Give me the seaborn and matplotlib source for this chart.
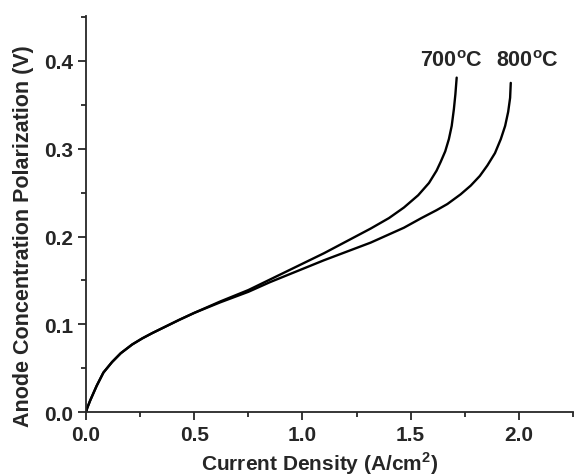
import matplotlib
matplotlib.use("Agg")
import matplotlib.pyplot as plt
import seaborn as sns
import pandas as pd
from matplotlib.ticker import MultipleLocator, FormatStrFormatter

# values
x_700 = [0.0, 0.005, 0.0185, 0.049, 0.08, 0.12, 0.16, 0.213, 0.26, 0.306, 0.43,
         0.5, 0.62, 0.75, 0.85, 1.0, 1.1, 1.315, 1.40, 1.469, 1.535, 1.585, 1.62,
         1.639, 1.66, 1.677, 1.69, 1.700, 1.707, 1.713]
y_700 = [0.0, 0.0045, 0.013, 0.030, 0.045, 0.057, 0.067, 0.077, 0.084, 0.090,
         0.105, 0.113, 0.126, 0.139, 0.151, 0.169, 0.181, 0.209, 0.221, 0.233,
         0.247, 0.261, 0.275, 0.285, 0.297, 0.311, 0.326, 0.345, 0.362, 0.381]

x_800 = [0.0, 0.005, 0.0185, 0.049, 0.08, 0.12, 0.16, 0.213, 0.26, 0.306, 0.43,
         0.5, 0.62, 0.75, 0.85, 1.0, 1.1, 1.315, 1.469, 1.55, 1.62, 1.67,
         1.731, 1.778, 1.82, 1.855, 1.89, 1.917, 1.937, 1.951, 1.96, 1.963]
y_800 = [0.0, 0.0045, 0.013, 0.030, 0.045, 0.057, 0.067, 0.077, 0.084, 0.090,
         0.105, 0.113, 0.125, 0.137, 0.148, 0.163, 0.173, 0.193, 0.210, 0.221,
         0.230, 0.237, 0.248, 0.258, 0.269, 0.281, 0.295, 0.311, 0.326, 0.342,
         0.358, 0.375]

labels = ["700$^{\\mathregular{o}}$C", "800$^{\\mathregular{o}}$C"]
label_x = [1.69, 2.04]

df = pd.concat([
    pd.DataFrame({"j": x_700, "eta": y_700, "T": "700"}),
    pd.DataFrame({"j": x_800, "eta": y_800, "T": "800"}),
], ignore_index=True)

sns.set_style("ticks")
plt.rcParams["font.family"] = ["Liberation Sans", "DejaVu Sans"]
plt.rcParams["font.weight"] = "bold"

fig = plt.figure(figsize=(5.74, 4.77), dpi=100)
ax = fig.add_axes([0.150, 0.134, 0.848, 0.830])

sns.lineplot(data=df, x="j", y="eta", units="T", estimator=None, sort=False,
             color="black", linewidth=1.7, ax=ax)

for lab, lx in zip(labels, label_x):
    ax.text(lx, 0.394, lab, ha="center", va="baseline", fontsize=15.5,
            fontweight="bold")

ax.set_xlim(0, 2.25)
ax.set_ylim(0, 0.451)
ax.xaxis.set_major_locator(MultipleLocator(0.5))
ax.xaxis.set_minor_locator(MultipleLocator(0.25))
ax.yaxis.set_major_locator(MultipleLocator(0.1))
ax.yaxis.set_minor_locator(MultipleLocator(0.05))
ax.xaxis.set_major_formatter(FormatStrFormatter("%.1f"))
ax.yaxis.set_major_formatter(FormatStrFormatter("%.1f"))

ax.tick_params(which="major", length=6, width=1.3, labelsize=15, direction="out",
               pad=3)
ax.tick_params(which="minor", length=3.5, width=1.3, direction="out")
for lbl in ax.get_xticklabels() + ax.get_yticklabels():
    lbl.set_fontweight("bold")

sns.despine(ax=ax)
for s in ["left", "bottom"]:
    ax.spines[s].set_linewidth(1.3)

ax.set_xlabel("Current Density (A/cm$^{\\mathregular{2}}$)", fontsize=15,
              fontweight="bold")
ax.set_ylabel("Anode Concentration Polarization (V)", fontsize=15.5,
              fontweight="bold")
ax.xaxis.set_label_coords(0.48, -0.095)
ax.yaxis.set_label_coords(-0.108, 0.447)

fig.savefig("out.png", dpi=100)
